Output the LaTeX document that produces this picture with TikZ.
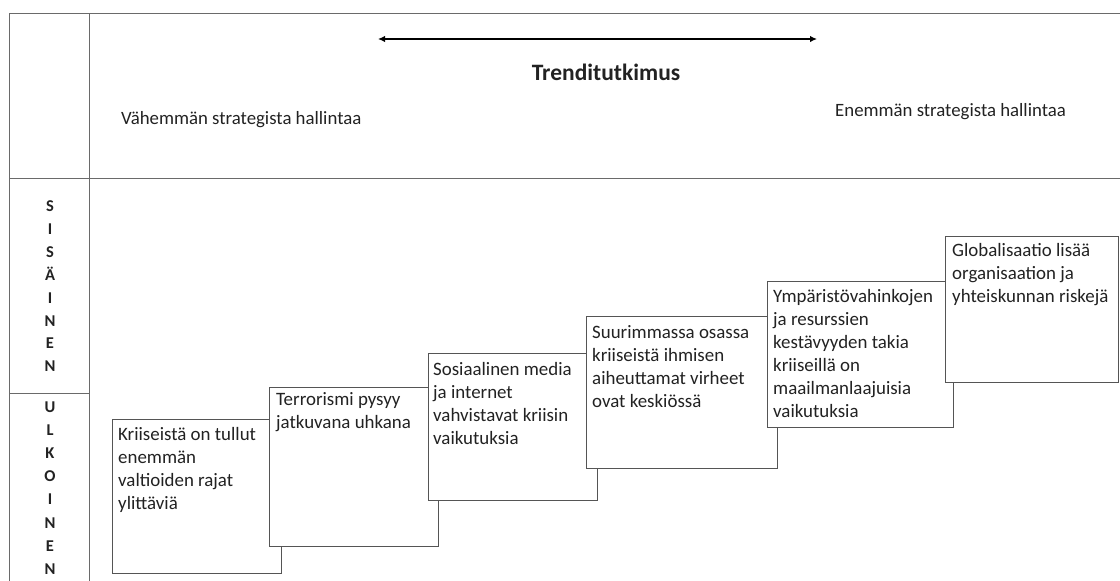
\documentclass[tikz,border=0pt]{standalone}
\usepackage{fontspec}
\setmainfont{Carlito}
\usetikzlibrary{arrows.meta}
\definecolor{framegray}{HTML}{6A6A6A}
\definecolor{boxgray}{HTML}{555555}
\definecolor{txtc}{HTML}{222222}
\begin{document}
\begin{tikzpicture}[x=1pt,y=-1pt,
  frameline/.style={draw=framegray,line width=0.9pt},
  stairbox/.style={draw=boxgray,line width=1.1pt,fill=white,anchor=north west,inner sep=0pt},
  boxtext/.style={anchor=north west,inner sep=0pt,align=left,text=txtc,font=\fontsize{18.9}{23}\selectfont},
  plaintext/.style={anchor=base west,inner sep=0pt,text=txtc,font=\fontsize{18.8}{22}\selectfont},
  letter/.style={anchor=base,inner sep=0pt,text=txtc,font=\fontsize{16.5}{18}\selectfont\bfseries}
]
\useasboundingbox (0,0) rectangle (1120,581);
% frame
\draw[frameline] (9,13) -- (1120,13);
\draw[frameline] (9,178) -- (1120,178);
\draw[frameline] (9,13) -- (9,581);
\draw[frameline] (89,13) -- (89,581);
\draw[frameline] (9,393) -- (89,393);
% top texts
\coordinate (al) at (378,39);
\coordinate (ar) at (817,39);
\draw[line width=2.2pt,{Latex[length=7pt,width=6.5pt]}-{Latex[length=7pt,width=6.5pt]}] (al) -- (ar);
\node[anchor=base,inner sep=0pt,text=txtc,font=\fontsize{23.5}{26}\selectfont\bfseries] (trend) at (606,80) {Trenditutkimus};
\node[plaintext] (less) at (121,124) {Vähemmän strategista hallintaa};
\node[plaintext] (more) at (835,116) {Enemmän strategista hallintaa};
% side letters
\foreach \l [count=\i from 0] in {S,I,S,Ä,I,N,E,N}
  \node[letter] (s\i) at (50,{211.5+22.9*\i}) {\l};
\foreach \l [count=\i from 0] in {U,L,K,O,I,N,E,N}
  \node[letter] (u\i) at (50,{412.5+23.1*\i}) {\l};
% stair boxes
\node[stairbox,minimum width=169pt,minimum height=154pt] (b1) at (112,419) {};
\node[boxtext] (t1) at ([xshift=6pt,yshift=-5pt]b1.north west) {\strut Kriiseistä on tullut\\enemmän\\valtioiden rajat\\ylittäviä};
\node[stairbox,minimum width=169pt,minimum height=159pt] (b2) at (269,387) {};
\node[boxtext] (t2) at ([xshift=7pt,yshift=-2.5pt]b2.north west) {\strut Terrorismi pysyy\\jatkuvana uhkana};
\node[stairbox,minimum width=169pt,minimum height=147pt] (b3) at (428,353) {};
\node[boxtext] (t3) at ([xshift=5pt,yshift=-6pt]b3.north west) {\strut Sosiaalinen media\\ja internet\\vahvistavat kriisin\\vaikutuksia};
\node[stairbox,minimum width=191pt,minimum height=152pt] (b4) at (586,316) {};
\node[boxtext] (t4) at ([xshift=6pt,yshift=-6pt]b4.north west) {\strut Suurimmassa osassa\\kriiseistä ihmisen\\aiheuttamat virheet\\ovat keskiössä};
\node[stairbox,minimum width=186pt,minimum height=146pt] (b5) at (767,281) {};
\node[boxtext] (t5) at ([xshift=6pt,yshift=-5pt]b5.north west) {\strut Ympäristövahinkojen\\ja resurssien\\kestävyyden takia\\kriiseillä on\\maailmanlaajuisia\\vaikutuksia};
\node[stairbox,minimum width=173pt,minimum height=146pt] (b6) at (945,236) {};
\node[boxtext] (t6) at ([xshift=7pt,yshift=-4pt]b6.north west) {\strut Globalisaatio lisää\\organisaation ja\\yhteiskunnan riskejä};
\end{tikzpicture}
\end{document}
